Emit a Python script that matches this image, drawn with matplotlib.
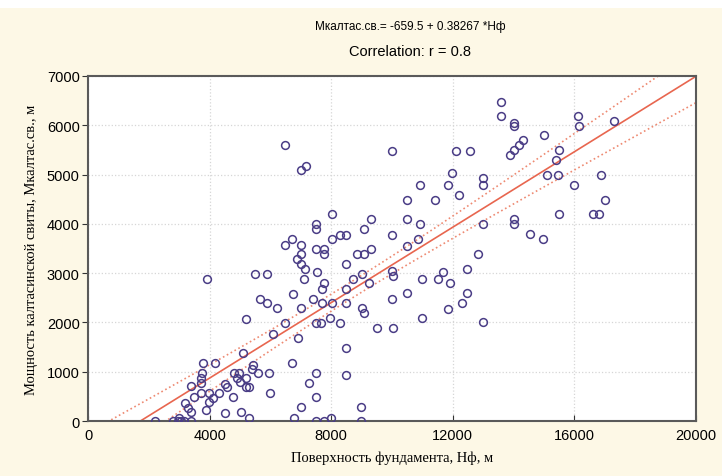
import numpy as np
import matplotlib
matplotlib.use("Agg")
import matplotlib.pyplot as plt
from matplotlib.patches import Rectangle

# Поверхность фундамента Нф (x) и мощность калтасинской свиты (y)
hf = [2210, 2800, 2950, 3050, 3160, 3400, 2980, 3200, 3290, 3380,
      3380, 3490, 3710, 3720, 3710, 3750, 3770, 4190, 3880, 3990,
      3990, 4100, 4300, 4510, 4520, 4560, 4780, 4790, 4980, 4910,
      5200, 5000, 5200, 5310, 5040, 5280, 5420, 5410, 5580, 5940,
      5990, 5090, 5200, 3900, 5490, 5880, 5660, 5880, 6230, 6100,
      6480, 6900, 6710, 6780, 7000, 7500, 7280, 7500, 7490, 7750,
      8000, 8980, 8980, 8490, 8490, 9500, 10020, 7500, 7680, 7960,
      8290, 9090, 9000, 7000, 7390, 7690, 8020, 8480, 6750, 10010,
      7760, 7690, 8480, 7540, 7110, 8730, 9000, 9240, 10000, 10020,
      6480, 6700, 7010, 7010, 6890, 7010, 7140, 7500, 7770, 7760,
      8020, 8290, 8480, 7500, 7500, 8020, 8480, 8840, 9080, 9300,
      9080, 9300, 10010, 6480, 7010, 7170, 10010, 10500, 10500, 10500,
      10500, 10910, 10870, 10930, 11000, 11000, 11400, 11510, 11690, 11840,
      11840, 11910, 11980, 12100, 12190, 12300, 12480, 12480, 12560, 12820,
      13000, 13000, 13000, 13000, 13600, 13600, 13880, 14000, 14180, 14300,
      14000, 14000, 14000, 14000, 14550, 14980, 15010, 15090, 15460, 15410,
      15490, 15490, 15990, 16110, 16150, 16890, 17020, 16600, 16800, 17300]
mk = [0, 0, 0, 0, 0, 0, 60, 370, 260, 190,
      720, 490, 560, 770, 870, 970, 1180, 1180, 230, 380,
      560, 470, 570, 170, 760, 680, 490, 970, 970, 870,
      870, 790, 700, 700, 180, 70, 1140, 1060, 970, 970,
      570, 1370, 2070, 2880, 2980, 2980, 2480, 2390, 2290, 1770,
      1990, 1680, 1180, 70, 290, 490, 770, 970, 0, 0,
      70, 0, 290, 930, 1480, 1880, 1880, 1990, 1990, 2080,
      1990, 2190, 2290, 2290, 2480, 2390, 2390, 2390, 2580, 2480,
      2790, 2680, 2680, 3030, 2880, 2880, 2980, 2790, 3040, 2950,
      3580, 3690, 3580, 3380, 3280, 3190, 3080, 3480, 3480, 3380,
      3690, 3780, 3780, 3990, 3900, 4190, 3190, 3380, 3380, 3480,
      3900, 4090, 3780, 5600, 5090, 5180, 5480, 3560, 2590, 4090,
      4490, 3990, 3690, 4780, 2880, 2080, 4490, 2880, 3030, 2280,
      4780, 2790, 5040, 5480, 4580, 2390, 3080, 2590, 5480, 3390,
      2000, 4940, 4780, 3990, 6480, 6190, 5400, 5500, 5600, 5700,
      6050, 5990, 4090, 3990, 3790, 3690, 5800, 4990, 4990, 5300,
      5490, 4190, 4780, 6190, 5990, 4990, 4490, 4190, 4190, 6090]

b0 = -659.5
b1 = 0.38267
x_ticks = [0, 4000, 8000, 12000, 16000, 20000]
y_ticks = [0, 1000, 2000, 3000, 4000, 5000, 6000, 7000]

title1 = "Мкалтас.св.= -659.5 + 0.38267 *Нф"
title2 = "Correlation: r = 0.8"
xlabel = "Поверхность фундамента, Нф, м"
ylabel = "Мощность калтасинской свиты, Мкалтас.св., м"

x = np.array(hf, dtype=float)
y = np.array(mk, dtype=float)

# 95% confidence band around the regression line
n = len(x)
resid = y - (b0 + b1 * x)
s = np.sqrt(np.sum(resid ** 2) / (n - 2))
sxx = np.sum((x - x.mean()) ** 2)
xs = np.linspace(0, 20000, 200)
ys = b0 + b1 * xs
band = 1.974 * s * np.sqrt(1.0 / n + (xs - x.mean()) ** 2 / sxx)

cream = "#fdf8e6"
fig = plt.figure(figsize=(7.22, 4.77), dpi=100, facecolor=cream)
fig.add_artist(Rectangle((0, 0.982), 1, 0.02, transform=fig.transFigure,
                         facecolor="white", edgecolor="none"))
ax = fig.add_axes([0.1219, 0.1153, 0.8421, 0.7233])
ax.set_facecolor("white")

ax.plot(x, y, "o", markersize=5.6, markerfacecolor="none",
        markeredgecolor="#4a3d86", markeredgewidth=1.1, zorder=3)
ax.plot(xs, ys, "-", color="#e8664f", linewidth=1.2, zorder=2)
ax.plot(xs, ys + band, ":", color="#ee8a72", linewidth=1.2, zorder=2)
ax.plot(xs, ys - band, ":", color="#ee8a72", linewidth=1.2, zorder=2)

ax.set_xlim(0, 20000)
ax.set_ylim(0, 7000)
ax.set_xticks(x_ticks)
ax.set_yticks(y_ticks)
ax.grid(True, linestyle=":", color="#d6d6d6", linewidth=0.9)
ax.set_axisbelow(True)

for sp in ax.spines.values():
    sp.set_color("#5a5a5a")
    sp.set_linewidth(1.5)

ax.tick_params(axis="x", direction="in", length=4, color="#333333",
               labelsize=10.5, pad=5)
ax.tick_params(axis="y", direction="out", length=4, color="#333333",
               labelsize=10.5, pad=2)
for lab in ax.get_xticklabels() + ax.get_yticklabels():
    lab.set_fontfamily("Liberation Sans")

ax.set_xlabel(xlabel, fontfamily="Liberation Serif", fontsize=10.5, labelpad=6)
ax.set_ylabel(ylabel, fontfamily="Liberation Serif", fontsize=10.5, labelpad=6)

fig.text(0.568, 0.943, title1, ha="center", va="center",
         fontfamily="Liberation Sans", fontsize=8.5)
fig.text(0.568, 0.891, title2, ha="center", va="center",
         fontfamily="Liberation Sans", fontsize=10.5)

fig.savefig("out.png", dpi=100, facecolor=cream)
